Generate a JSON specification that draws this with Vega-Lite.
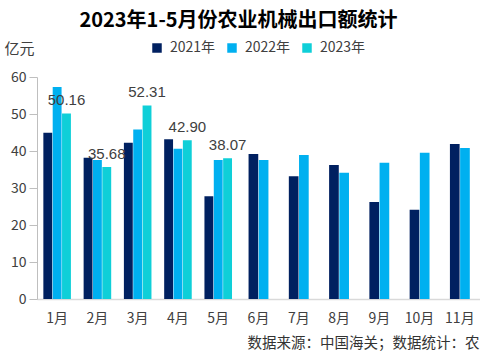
{
  "$schema": "https://vega.github.io/schema/vega-lite/v6.json",
  "autosize": {"type": "none"},
  "width": 443,
  "height": 222,
  "padding": {"left": 37, "top": 77, "right": 0, "bottom": 61},
  "background": "white",
  "config": {
    "view": {"stroke": null},
    "font": "Noto Sans CJK SC"
  },
  "title": {
    "text": "2023年1-5月份农业机械出口额统计",
    "fontSize": 20,
    "fontWeight": "bold",
    "color": "#000000",
    "anchor": "middle",
    "frame": "group",
    "dx": -20,
    "offset": 10
  },
  "data": {
    "values": [
      {"month": "1月", "year": "2021年", "value": 44.9},
      {"month": "1月", "year": "2022年", "value": 57.3},
      {"month": "1月", "year": "2023年", "value": 50.16},
      {"month": "2月", "year": "2021年", "value": 38.2},
      {"month": "2月", "year": "2022年", "value": 37.6},
      {"month": "2月", "year": "2023年", "value": 35.68},
      {"month": "3月", "year": "2021年", "value": 42.2},
      {"month": "3月", "year": "2022年", "value": 45.8},
      {"month": "3月", "year": "2023年", "value": 52.31},
      {"month": "4月", "year": "2021年", "value": 43.2},
      {"month": "4月", "year": "2022年", "value": 40.6},
      {"month": "4月", "year": "2023年", "value": 42.90},
      {"month": "5月", "year": "2021年", "value": 27.8},
      {"month": "5月", "year": "2022年", "value": 37.6},
      {"month": "5月", "year": "2023年", "value": 38.07},
      {"month": "6月", "year": "2021年", "value": 39.2},
      {"month": "6月", "year": "2022年", "value": 37.6},
      {"month": "7月", "year": "2021年", "value": 33.2},
      {"month": "7月", "year": "2022年", "value": 38.9},
      {"month": "8月", "year": "2021年", "value": 36.2},
      {"month": "8月", "year": "2022年", "value": 34.1},
      {"month": "9月", "year": "2021年", "value": 26.2},
      {"month": "9月", "year": "2022年", "value": 36.8},
      {"month": "10月", "year": "2021年", "value": 24.1},
      {"month": "10月", "year": "2022年", "value": 39.5},
      {"month": "11月", "year": "2021年", "value": 41.9},
      {"month": "11月", "year": "2022年", "value": 40.8}
    ]
  },
  "encoding": {
    "x": {
      "field": "month",
      "type": "nominal",
      "sort": ["1月","2月","3月","4月","5月","6月","7月","8月","9月","10月","11月"],
      "scale": {"paddingInner": 0, "paddingOuter": 0},
      "axis": {
        "title": "数据来源：中国海关；数据统计：农",
        "titleFontSize": 14.5,
        "titleFontWeight": "normal",
        "titleColor": "#333333",
        "titleAnchor": "end",
        "titleAlign": "right",
        "titleX": 442,
        "titleY": 44,
        "titleBaseline": "middle",
        "labelAngle": 0,
        "labelFontSize": 14,
        "labelColor": "#404040",
        "labelPadding": 12,
        "ticks": false,
        "domainColor": "#D9D9D9",
        "domainWidth": 1.5
      }
    },
    "y": {
      "field": "value",
      "type": "quantitative",
      "scale": {"domain": [0, 60], "nice": false},
      "axis": {
        "title": "亿元",
        "titleAngle": 0,
        "titleFontSize": 15,
        "titleFontWeight": "normal",
        "titleColor": "#404040",
        "titleAlign": "left",
        "titleBaseline": "middle",
        "titleX": -33,
        "titleY": -29,
        "values": [0, 10, 20, 30, 40, 50, 60],
        "labelFontSize": 14,
        "labelColor": "#404040",
        "labelPadding": 3,
        "tickSize": 8,
        "tickColor": "#BFBFBF",
        "domainColor": "#BFBFBF",
        "grid": false
      }
    },
    "color": {
      "field": "year",
      "type": "nominal",
      "scale": {"domain": ["2021年", "2022年", "2023年"], "range": ["#002060", "#00B0F0", "#0FCFD8"]},
      "legend": {
        "title": null,
        "orient": "none",
        "direction": "horizontal",
        "legendX": 113,
        "legendY": -36,
        "padding": 0,
        "symbolType": "square",
        "symbolSize": 90,
        "symbolStrokeWidth": 0,
        "labelFontSize": 14,
        "labelColor": "#404040",
        "labelOffset": 6,
        "columnPadding": 9
      }
    }
  },
  "layer": [
    {
      "transform": [{"filter": {"field": "month", "oneOf": ["1月","2月","3月","4月","5月"]}}],
      "encoding": {
        "xOffset": {
          "field": "year",
          "type": "nominal",
          "scale": {"domain": ["2021年", "2022年", "2023年"], "paddingInner": 0.05, "paddingOuter": 0.68}
        }
      },
      "layer": [
        {"mark": {"type": "bar"}},
        {
          "transform": [{"filter": {"field": "year", "equal": "2023年"}}],
          "mark": {"type": "text", "baseline": "bottom", "dy": -5, "fontSize": 15, "color": "#404040", "font": "Liberation Sans"},
          "encoding": {
            "text": {"field": "value", "type": "quantitative", "format": ".2f"},
            "color": {"value": "#404040"}
          }
        }
      ]
    },
    {
      "transform": [{"filter": {"field": "month", "oneOf": ["6月","7月","8月","9月","10月","11月"]}}],
      "mark": {"type": "bar"},
      "encoding": {
        "xOffset": {
          "field": "year",
          "type": "nominal",
          "scale": {"domain": ["2021年", "2022年"], "paddingInner": 0.05, "paddingOuter": 1.18}
        }
      }
    }
  ],
  "resolve": {"scale": {"xOffset": "independent"}}
}
